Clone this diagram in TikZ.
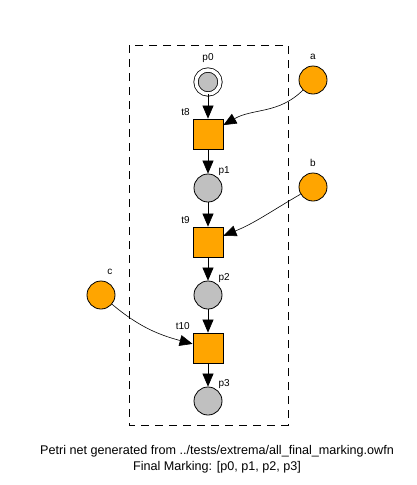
\documentclass[tikz,border=0pt]{standalone}
\usepackage{fontspec}
\setmainfont{Liberation Sans}
\usetikzlibrary{arrows.meta}
\definecolor{placegray}{HTML}{C0C0C0}
\definecolor{ifaceorange}{HTML}{FFA500}

\begin{document}
\begin{tikzpicture}[x=1pt,y=-1pt,line width=.8pt,
    place/.style={circle,draw,fill=placegray,minimum size=28pt,inner sep=0pt},
    finalplace/.style={place,minimum size=24pt,double,double distance=3.5pt},
    iface/.style={place,fill=ifaceorange},
    trans/.style={rectangle,draw,fill=ifaceorange,minimum size=30pt,inner sep=0pt},
    lbl/.style={font=\fontsize{10}{12}\selectfont,inner sep=1pt},
    arc/.style={-{Triangle[length=13pt,width=11pt]},line width=.6pt}]
  \useasboundingbox (0,0) rectangle (416,485);
  \draw[dash pattern=on 8pt off 6pt] (129,45) rectangle (288,425);

  \node[finalplace,label={[lbl,label distance=6pt]above:p0}] (p0) at (208,82) {};
  \node[trans,label={[lbl,label distance=2pt]135:t8}] (t8) at (208,134) {};
  \node[place,label={[lbl]50:p1}] (p1) at (208,188) {};
  \node[trans,label={[lbl,label distance=2pt]135:t9}] (t9) at (208,242) {};
  \node[place,label={[lbl]50:p2}] (p2) at (208,295) {};
  \node[trans,label={[lbl,label distance=2pt]135:t10}] (t10) at (208,348) {};
  \node[place,label={[lbl]50:p3}] (p3) at (208,401) {};

  \node[iface,label={[lbl,label distance=5pt]above:a}] (a) at (313,80) {};
  \node[iface,label={[lbl,label distance=5pt]above:b}] (b) at (313,187) {};
  \node[iface,label={[lbl,label distance=5pt]75:c}] (c) at (101,295) {};

  \draw[arc] (p0) -- (t8);
  \draw[arc] (t8) -- (p1);
  \draw[arc] (p1) -- (t9);
  \draw[arc] (t9) -- (p2);
  \draw[arc] (p2) -- (t10);
  \draw[arc] (t10) -- (p3);
  \draw[arc] (a) to[out=225,in=30] (t8);
  \draw[arc] (b) to[out=210,in=22] (t9);
  \draw[arc] (c) to[out=-40,in=165] (t10);

  \node[font=\fontsize{12.6}{15.5}\selectfont,align=center] (caption) at (217,459)
    {Petri net generated from ../tests/extrema/all\_final\_marking.owfn\\Final Marking: [p0, p1, p2, p3]};
\end{tikzpicture}
\end{document}
